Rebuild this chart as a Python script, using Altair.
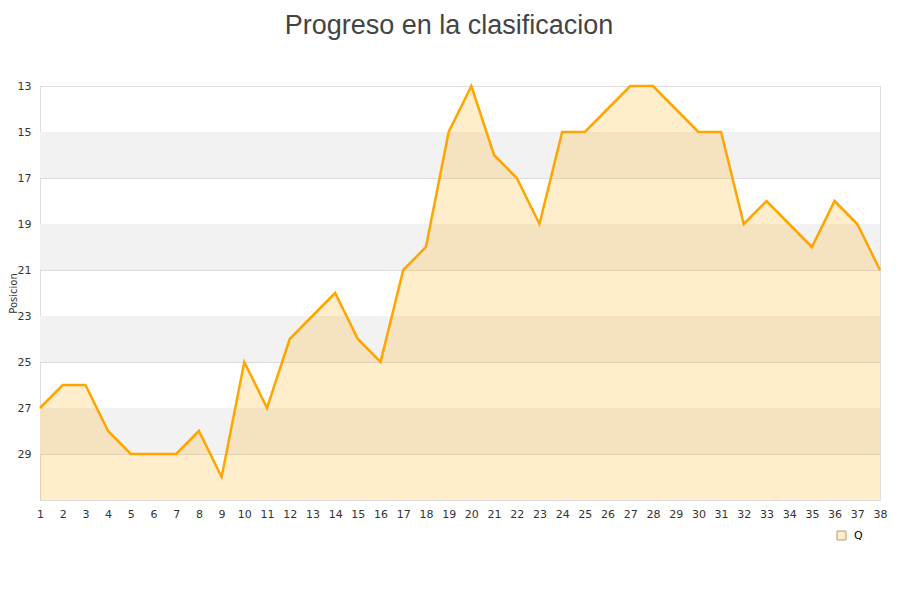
import altair as alt
import pandas as pd

jornadas = list(range(1, 39))
posiciones = [27, 26, 26, 28, 29, 29, 29, 28, 30, 25, 27, 24, 23, 22, 24, 25, 21, 20, 15, 13,
              16, 17, 19, 15, 15, 14, 13, 13, 14, 15, 15, 19, 18, 19, 20, 18, 19, 21]
serie = ["Q"] * len(jornadas)

band_start = [15, 19, 23, 27]
band_end = [17, 21, 25, 29]
y_ticks = [13, 15, 17, 19, 21, 23, 25, 27, 29]

df = pd.DataFrame({"jornada": jornadas, "posicion": posiciones, "serie": serie})
bands = pd.DataFrame({"y1": band_start, "y2": band_end})

yscale = alt.Scale(domain=[13, 31], reverse=True, nice=False, zero=False)
xscale = alt.Scale(domain=[1, 38], nice=False, zero=False)

x_axis = alt.Axis(values=jornadas, format="d", title=None, grid=False, ticks=False,
                  domain=False, labelPadding=8, labelFontSize=11, labelColor="#333",
                  labelFont="DejaVu Sans", labelFlush=False, labelOverlap=False,
                  labelSeparation=0, labelBound=False)
y_axis = alt.Axis(values=y_ticks, title="Posicion", titleFontSize=10,
                  titleFontWeight="normal", titleColor="#333", titleFont="DejaVu Sans",
                  titleX=-22, titleY=207, titleAngle=270, titleAlign="center",
                  titleBaseline="bottom",
                  grid=True, gridColor="#dddddd", ticks=False,
                  domain=False, labelPadding=9, labelFontSize=11, labelColor="#333",
                  labelFont="DejaVu Sans")

X = alt.X("jornada:Q", scale=xscale, axis=x_axis)
Y = alt.Y("posicion:Q", scale=yscale, axis=y_axis)

band_layer = alt.Chart(bands).mark_rect(color="#f2f2f2").encode(
    x=alt.value(0), x2=alt.value(840),
    y=alt.Y("y1:Q", scale=yscale, axis=y_axis),
    y2="y2:Q",
)

area = alt.Chart(df).mark_area(color="#ffa500", fillOpacity=0.2, interpolate="linear").encode(
    x=X, y=Y, y2=alt.datum(31),
)

legend_layer = alt.Chart(df.head(1)).mark_point(filled=True, opacity=0, size=1).encode(
    x=X, y=Y,
    fill=alt.Fill("serie:N", scale=alt.Scale(range=["#ffedcc"]),
                  legend=alt.Legend(title=None, orient="none", legendX=796, legendY=444,
                                    symbolType="square", symbolSize=80,
                                    symbolStrokeColor="#b89a70", symbolStrokeWidth=1,
                                    symbolOpacity=1, labelFontSize=11, labelColor="#000",
                                    labelFont="DejaVu Sans", labelOffset=7)),
)

line = alt.Chart(df).mark_line(color="#ffa500", strokeWidth=2.5).encode(x=X, y=Y)

chart = alt.layer(band_layer, area, line, legend_layer).properties(
    width=840, height=414,
    autosize=alt.AutoSizeParams(type="none"),
    padding={"left": 32, "top": 78, "right": 10, "bottom": 80},
    title=alt.Title("Progreso en la clasificacion", fontSize=27, font="Liberation Sans",
                    fontWeight="normal", color="#444", offset=40, dx=-11, anchor="middle"),
).configure_view(stroke="#dddddd", strokeWidth=1)

chart.save("out.html", embed_options={"renderer": "svg", "actions": False})
